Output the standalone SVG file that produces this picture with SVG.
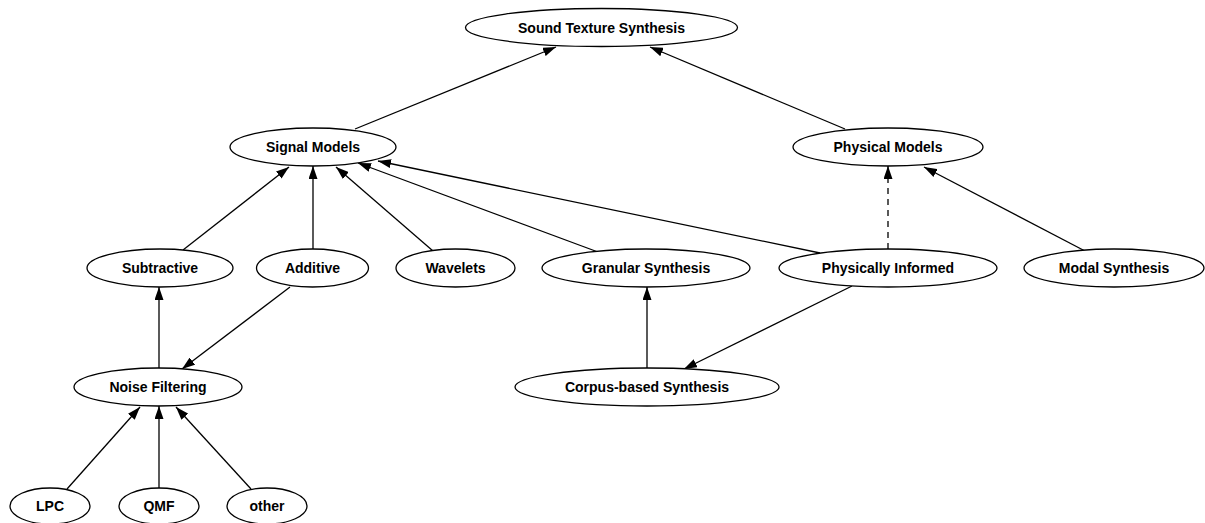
<svg xmlns="http://www.w3.org/2000/svg" width="1205" height="523" viewBox="0 0 1205 523">
<style>
.n ellipse{fill:#fff;stroke:#000;stroke-width:1.3}
.n text{font-family:"Liberation Sans",Arial,sans-serif;font-weight:bold;font-size:14px;text-anchor:middle;fill:#000}
#edges line{stroke:#000;stroke-width:1.3;marker-end:url(#ah)}
#edges line.d{stroke-dasharray:6,5}
</style>
<defs>
<marker id="ah" markerUnits="userSpaceOnUse" markerWidth="13" markerHeight="9" refX="13" refY="4.5" orient="auto" viewBox="0 0 13 9">
<path d="M0,0 L13,4.5 L0,9 z" fill="#000"/>
</marker>
</defs>
<rect width="1205" height="523" fill="#fff"/>
<g id="edges">
<line x1="355" y1="129" x2="556" y2="47"/>
<line x1="845" y1="129" x2="650" y2="47"/>
<line x1="183" y1="250" x2="289" y2="167"/>
<line x1="313" y1="249" x2="313" y2="166"/>
<line x1="433" y1="251" x2="336" y2="167"/>
<line x1="598" y1="252" x2="358" y2="163"/>
<line x1="820" y1="253" x2="378" y2="161"/>
<line class="d" x1="888" y1="249" x2="888" y2="166"/>
<line x1="1085" y1="251" x2="924" y2="167"/>
<line x1="290" y1="287" x2="182" y2="369"/>
<line x1="159" y1="368" x2="159" y2="287"/>
<line x1="647" y1="368" x2="647" y2="287"/>
<line x1="852" y1="286" x2="684" y2="369"/>
<line x1="67" y1="489" x2="140" y2="407"/>
<line x1="159" y1="488" x2="159" y2="406"/>
<line x1="251" y1="489" x2="176" y2="407"/>
</g>
<g id="n-sound" class="n"><ellipse cx="601.5" cy="27.5" rx="136" ry="19"/><text x="601.5" y="32.5">Sound Texture Synthesis</text></g>
<g id="n-signal" class="n"><ellipse cx="313" cy="147" rx="83" ry="19"/><text x="313" y="152">Signal Models</text></g>
<g id="n-physical" class="n"><ellipse cx="888" cy="147" rx="95" ry="19"/><text x="888" y="152">Physical Models</text></g>
<g id="n-subtractive" class="n"><ellipse cx="160" cy="268" rx="73" ry="19"/><text x="160" y="273">Subtractive</text></g>
<g id="n-additive" class="n"><ellipse cx="312.5" cy="268" rx="56" ry="19"/><text x="312.5" y="273">Additive</text></g>
<g id="n-wavelets" class="n"><ellipse cx="455.5" cy="268" rx="59.5" ry="19"/><text x="455.5" y="273">Wavelets</text></g>
<g id="n-granular" class="n"><ellipse cx="646" cy="268" rx="104" ry="19"/><text x="646" y="273">Granular Synthesis</text></g>
<g id="n-physinf" class="n"><ellipse cx="888" cy="268" rx="109" ry="19"/><text x="888" y="273">Physically Informed</text></g>
<g id="n-modal" class="n"><ellipse cx="1114" cy="268" rx="90" ry="19"/><text x="1114" y="273">Modal Synthesis</text></g>
<g id="n-noise" class="n"><ellipse cx="158" cy="387" rx="84" ry="19"/><text x="158" y="392">Noise Filtering</text></g>
<g id="n-corpus" class="n"><ellipse cx="647" cy="387" rx="132" ry="19"/><text x="647" y="392">Corpus-based Synthesis</text></g>
<g id="n-lpc" class="n"><ellipse cx="50" cy="506" rx="40" ry="18"/><text x="50" y="511">LPC</text></g>
<g id="n-qmf" class="n"><ellipse cx="159" cy="506" rx="40" ry="18"/><text x="159" y="511">QMF</text></g>
<g id="n-other" class="n"><ellipse cx="267" cy="506" rx="40" ry="18"/><text x="267" y="511">other</text></g>
</svg>
